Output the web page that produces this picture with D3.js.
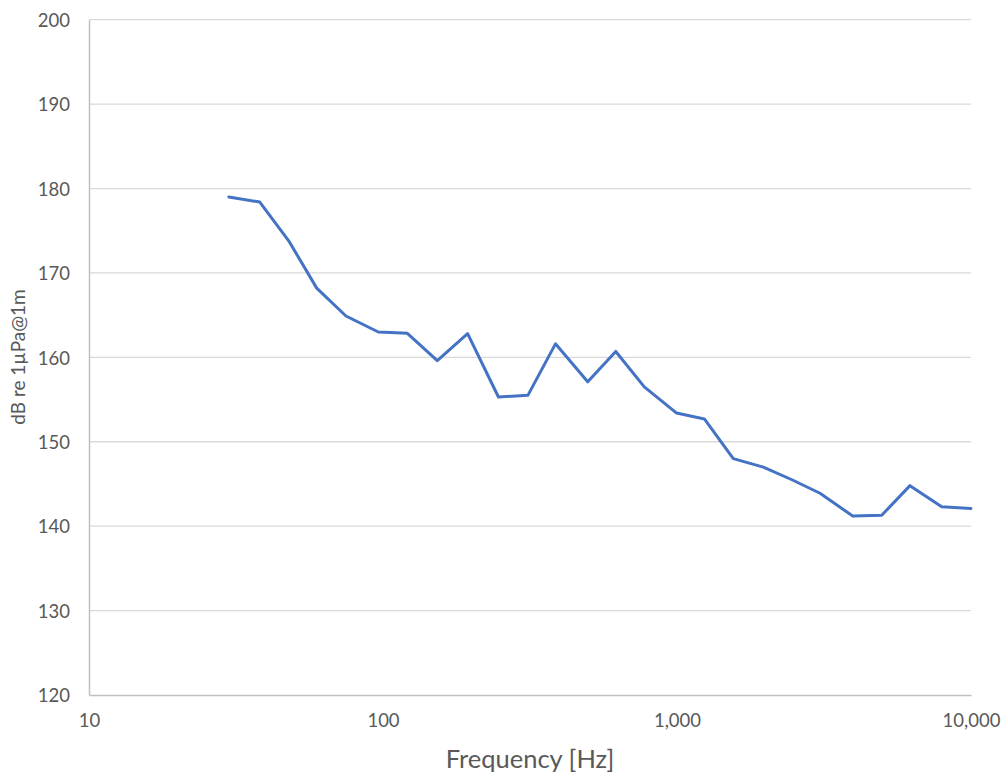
<!DOCTYPE html>
<html>
<head>
<meta charset="utf-8">
<script src="https://cdn.jsdelivr.net/npm/d3@7"></script>
<style>
  html, body { margin: 0; padding: 0; background: #ffffff; }
  svg { display: block; }
  text { font-family: Lato, "Open Sans", sans-serif; fill: #595959; }
</style>
</head>
<body>
<svg id="chart" width="1003" height="774"></svg>
<script>
// Frequencies (Hz)
const frequencies = [29.9, 38.1, 48.0, 59.5, 74.8, 96.4, 121, 153, 194, 247, 311, 386, 497, 619, 774, 997, 1239, 1554, 1966, 2460, 3065, 3960, 4971, 6201, 7949, 10000];
// Levels (dB re 1µPa@1m)
const levels = [179.0, 178.4, 173.7, 168.2, 164.9, 163.0, 162.85, 159.6, 162.8, 155.3, 155.5, 161.6, 157.1, 160.7, 156.5, 153.4, 152.7, 148.0, 147.0, 145.5, 143.9, 141.2, 141.3, 144.8, 142.3, 142.1];
const xTicks = [10, 100, 1000, 10000];
const yTicks = [120, 130, 140, 150, 160, 170, 180, 190, 200];
const xTitle = "Frequency [Hz]";
const yTitle = "dB re 1µPa@1m";

const svg = d3.select("#chart");
const mLeft = 89, mRight = 971, mTop = 19.7, mBottom = 695;

const x = d3.scaleLog().domain([10, 10000]).range([mLeft, mRight]);
const y = d3.scaleLinear().domain([120, 200]).range([mBottom, mTop]);

// Horizontal gridlines
svg.append("g").selectAll("line")
  .data(yTicks.filter(d => d !== 120))
  .join("line")
  .attr("x1", mLeft).attr("x2", mRight)
  .attr("y1", d => y(d)).attr("y2", d => y(d))
  .attr("stroke", "#d9d9d9").attr("stroke-width", 1.3);

// Y axis (labels only + axis line)
const yAxis = svg.append("g")
  .attr("transform", `translate(${mLeft},0)`)
  .call(d3.axisLeft(y).tickValues(yTicks).tickSize(0).tickPadding(19).tickFormat(d3.format("d")));
yAxis.select(".domain").attr("stroke", "#bfbfbf").attr("stroke-width", 1.5);
yAxis.selectAll("text").style("font-size", "18.5px").attr("fill", "#595959").attr("dy", "0.36em");

// X axis
const xAxis = svg.append("g")
  .attr("transform", `translate(0,${mBottom})`)
  .call(d3.axisBottom(x).tickValues(xTicks).tickSize(0).tickPadding(19).tickFormat(d3.format(",")));
xAxis.select(".domain").attr("stroke", "#bfbfbf").attr("stroke-width", 1.5);
xAxis.selectAll("text").style("font-size", "18.5px").attr("fill", "#595959");

// Series line
const data = frequencies.map((f, i) => ({ f, v: levels[i] }));
svg.append("path")
  .datum(data)
  .attr("fill", "none")
  .attr("stroke", "#4472c4")
  .attr("stroke-width", 3)
  .attr("stroke-linejoin", "round")
  .attr("stroke-linecap", "round")
  .attr("d", d3.line().x(d => x(d.f)).y(d => y(d.v)));

// Axis titles
svg.append("text")
  .attr("x", (mLeft + mRight) / 2).attr("y", 768)
  .attr("text-anchor", "middle")
  .style("font-size", "25.5px")
  .text(xTitle);

svg.append("text")
  .attr("transform", `translate(25,357) rotate(-90)`)
  .attr("text-anchor", "middle")
  .style("font-size", "19px")
  .text(yTitle);
</script>
</body>
</html>
